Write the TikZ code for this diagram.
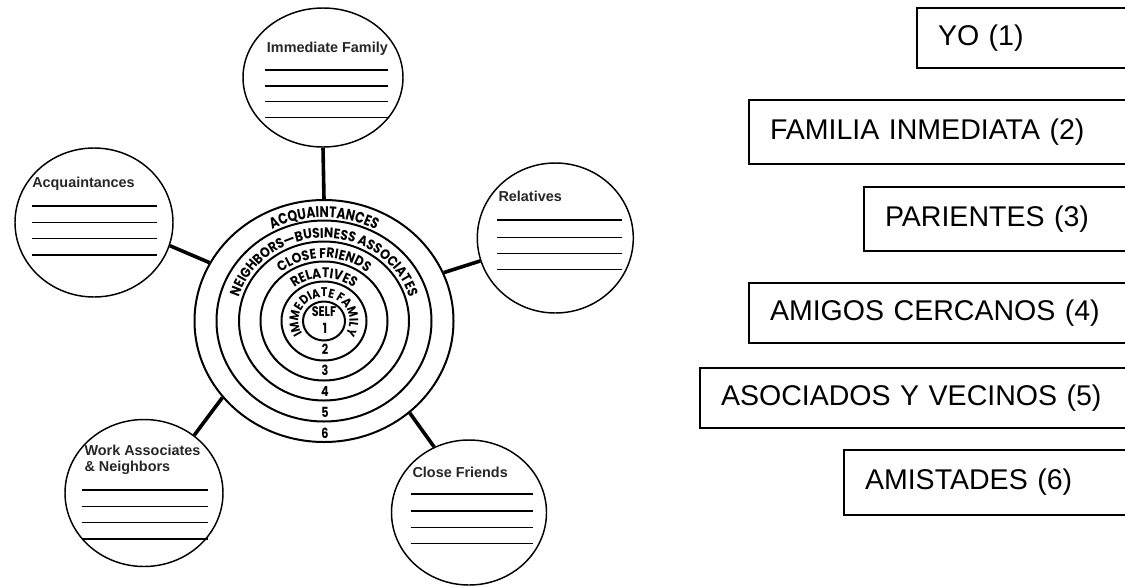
\documentclass[tikz,border=0pt]{standalone}
\usepackage{fontspec}
\setmainfont{Liberation Sans}
\newfontfamily\ringfont{Poppins}[FakeStretch=0.8]
\newfontfamily\ringwide{Poppins}[FakeStretch=0.88]
\usetikzlibrary{shapes.geometric,decorations.text}

\tikzset{
  satellite/.style={draw, ellipse, line width=1.1pt, inner sep=0pt},
  ringline/.style={draw, ellipse, line width=1.5pt, inner sep=0pt},
  link/.style={line width=2.7pt},
  writeline/.style={line width=0.9pt},
  satlabel/.style={anchor=west, inner sep=0pt, align=left, text=black!85, font=\fontsize{10.8}{12}\selectfont\bfseries},
  ringnum/.style={inner sep=0pt, font=\fontsize{10.5}{12}\selectfont\ringfont\bfseries},
  legendbox/.style={draw, line width=1.5pt, anchor=north west, text width=330pt, align=left, inner xsep=15.75pt, inner ysep=0pt, font=\fontsize{21.4}{24}\selectfont}
}

\begin{document}
\begin{tikzpicture}[x=0.75pt,y=0.75pt,yscale=-1,xscale=1]
\useasboundingbox[fill=white] (0,0) rectangle (1125,586);

%Centre of the rings
\coordinate (self) at (324,321);

%Shape: Ellipses (rings 1 to 6)
\node [ringline, minimum width=42*0.75pt, minimum height=39*0.75pt] (ring1) at (self) {};
\node [ringline, minimum width=85*0.75pt, minimum height=79*0.75pt] (ring2) at (self) {};
\node [ringline, minimum width=127*0.75pt, minimum height=119*0.75pt] (ring3) at (self) {};
\node [ringline, minimum width=170*0.75pt, minimum height=159*0.75pt] (ring4) at (self) {};
\node [ringline, minimum width=215*0.75pt, minimum height=201*0.75pt] (ring5) at (self) {};
\node [ringline, minimum width=259*0.75pt, minimum height=242*0.75pt] (ring6) at (self) {};

% Curved Text
\path [decorate, decoration={text along path, text align=center, text={|\fontsize{11.5}{13}\selectfont\ringfont\bfseries|ACQUAINTANCES}}] (self) ++(180:110 and 103.5) arc [start angle=180, end angle=360, x radius=110, y radius=103.5];
\path [decorate, decoration={text along path, text align=center, text={|\fontsize{10.5}{12}\selectfont\ringwide\bfseries|NEIGHBORS—BUSINESS ASSOCIATES}}] (self) ++(150:89 and 83) arc [start angle=150, end angle=390, x radius=89, y radius=83];
\path [decorate, decoration={text along path, text align=center, text={|\fontsize{10.5}{12}\selectfont\ringwide\bfseries|CLOSE FRIENDS}}] (self) ++(150:67.5 and 63) arc [start angle=150, end angle=390, x radius=67.5, y radius=63];
\path [decorate, decoration={text along path, text align=center, text={|\fontsize{10.5}{12}\selectfont\ringwide\bfseries|RELATIVES}}] (self) ++(150:46 and 43) arc [start angle=150, end angle=390, x radius=46, y radius=43];
\path [decorate, decoration={text along path, text align=center, text={|\fontsize{9.5}{11}\selectfont\ringwide\bfseries|IMMEDIATE FAMILY}}] (self) ++(90:25.5 and 24) arc [start angle=90, end angle=450, x radius=25.5, y radius=24];

% Text Node
\node [ringnum] (selftext) at (324,312) {SELF};
\node [ringnum] (num1) at (325,328) {1};
\node [ringnum] (num2) at (325,349) {2};
\node [ringnum] (num3) at (325,370) {3};
\node [ringnum] (num4) at (325,391) {4};
\node [ringnum] (num5) at (325,412) {5};
\node [ringnum] (num6) at (325,433) {6};

%Shape: Ellipses (the five groups)
\node [satellite, minimum width=160*0.75pt, minimum height=139*0.75pt] (famI) at (323,77.5) {};
\node [satellite, minimum width=158*0.75pt, minimum height=149*0.75pt] (acq) at (94,222.5) {};
\node [satellite, minimum width=156*0.75pt, minimum height=150*0.75pt] (rel) at (555.3,238) {};
\node [satellite, minimum width=158*0.75pt, minimum height=147*0.75pt] (work) at (144,493) {};
\node [satellite, minimum width=155*0.75pt, minimum height=145*0.75pt] (close) at (469,512.5) {};

%Straight Lines (links)
\draw [link] (famI.-90) -- (ring6.90);
\draw [link] (acq.-17.6) -- (ring6.153.2);
\draw [link] (rel.197.7) -- (ring6.22.5);
\draw [link] (work.49.4) -- (ring6.217.5);
\draw [link] (close.118) -- (ring6.-47.5);

% Text Node
\node [satlabel] (famIlabel) at (266.7,48.3) {Immediate Family};
\node [satlabel] (acqlabel) at (32,183.3) {Acquaintances};
\node [satlabel] (rellabel) at (498.3,196.7) {Relatives};
\node [satlabel] (worklabel) at (84.3,459.7) {Work Associates\\\& Neighbors};
\node [satlabel] (closelabel) at (412.3,472.3) {Close Friends};

%Straight Lines (blanks to write on)
\draw [writeline] (265,70) -- (388,70) (265,86) -- (388,86) (265,101.7) -- (388,101.7) (265,117.3) -- (388,117.3);
\draw [writeline] (32,206) -- (157,206) (32,222.7) -- (157,222.7) (32,238.3) -- (157,238.3) (32,255) -- (157,255);
\draw [writeline] (497.3,220) -- (621.7,220) (497.3,237.3) -- (621.7,237.3) (497.3,253.3) -- (621.7,253.3) (497.3,269.3) -- (621.7,269.3);
\draw [writeline] (82.3,490) -- (207.7,490) (82.3,506.7) -- (207.7,506.7) (82.3,522.7) -- (207.7,522.7) (82.3,539) -- (207.7,539);
\draw [writeline] (410.7,494) -- (533.3,494) (410.7,511) -- (533.3,511) (410.7,527.3) -- (533.3,527.3) (410.7,543.3) -- (533.3,543.3);

%Shape: Rectangles (Spanish legend)
\node [legendbox, minimum height=60*0.75pt] (yo) at (916,7) {YO (1)};
\node [legendbox, minimum height=64*0.75pt] (familia) at (748,99) {FAMILIA INMEDIATA (2)};
\node [legendbox, minimum height=64*0.75pt] (parientes) at (863,186) {PARIENTES (3)};
\node [legendbox, minimum height=60*0.75pt] (amigos) at (748,282) {AMIGOS CERCANOS (4)};
\node [legendbox, minimum height=60*0.75pt] (asociados) at (699,367) {ASOCIADOS Y VECINOS (5)};
\node [legendbox, minimum height=65*0.75pt] (amistades) at (843,449) {AMISTADES (6)};

\end{tikzpicture}
\end{document}
